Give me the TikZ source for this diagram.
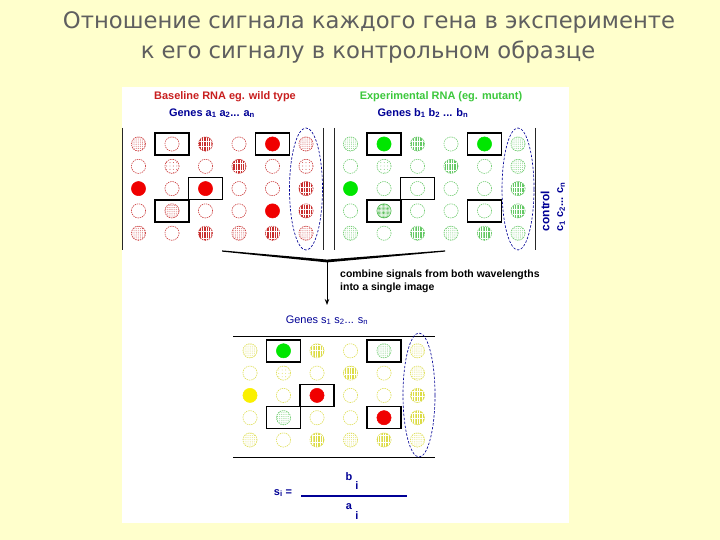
\documentclass[tikz,border=0pt]{standalone}
\usepackage{fontspec}
\setmainfont{Liberation Sans}
\newfontfamily\titlefont{DejaVu Sans}
\usetikzlibrary{patterns.meta,arrows.meta}
\definecolor{bg}{RGB}{255,255,204}
\definecolor{titlegrey}{RGB}{95,95,95}
\definecolor{rd}{RGB}{200,45,45}
\definecolor{rf}{RGB}{240,0,0}
\definecolor{gn}{RGB}{100,200,100}
\definecolor{gf}{RGB}{0,230,0}
\definecolor{gd}{RGB}{60,180,60}
\definecolor{yl}{RGB}{220,220,70}
\definecolor{yf}{RGB}{250,240,0}
\definecolor{navy}{RGB}{0,0,150}
\definecolor{hdrred}{RGB}{200,30,30}
\definecolor{hdrgreen}{RGB}{60,200,60}
\newcommand\spotrow[3]{\foreach \tp/\cl [count=\i from 0] in {#3}
  \path[spot\tp=\cl] ({#1+\i*33.5},#2) circle[radius=7.1bp];}
\newcommand\spotbox[2]{\draw[boxst] ({#1-17},{#2-11}) rectangle ({#1+17},{#2+11});}
\begin{document}
\begin{tikzpicture}[x=1bp,y=-1bp,
  spotE/.style={draw=#1, line width=0.55bp, dash pattern=on 1.4bp off 0.9bp},
  spotG/.style={spotE=#1, pattern={Dots[distance=1.9bp,radius=0.4bp]}, pattern color=#1},
  spotS/.style={spotE=#1, pattern={Dots[distance=3.4bp,radius=0.45bp]}, pattern color=#1},
  spotV/.style={spotE=#1, pattern={Lines[angle=90,distance=1.7bp,line width=0.5bp]}, pattern color=#1},
  spotD/.style={draw=#1, line width=0.5bp, pattern={Dots[distance=1.3bp,radius=0.45bp]}, pattern color=#1},
  spotF/.style={draw=#1, fill=#1, line width=0.5bp},
  boxst/.style={draw=black, line width=1.5bp},
  ctrl/.style={draw=navy, line width=0.65bp, dash pattern=on 2.4bp off 1.6bp},
  vline/.style={draw=black!85, line width=0.9bp},
  hdr/.style={font=\bfseries\fontsize{11}{13}\selectfont, inner sep=0pt},
  txt/.style={font=\bfseries\fontsize{10.5}{13}\selectfont, inner sep=0pt, anchor=west}]
\useasboundingbox (0,0) rectangle (720,540);
\fill[bg] (0,0) rectangle (720,540);
\fill[white] (122,87) rectangle (569,523);
% title
\node[titlegrey, font=\titlefont\fontsize{22.8}{27}\selectfont, inner sep=0pt] (t1) at (369,22) {Отношение сигнала каждого гена в эксперименте};
\node[titlegrey, font=\titlefont\fontsize{22.8}{27}\selectfont, inner sep=0pt] (t2) at (368,52) {к его сигналу в контрольном образце};
% headers
\node[hdr, text=hdrred] (h1) at (225,97) {Baseline RNA eg. wild type};
\node[hdr, text=navy] (g1) at (212,113) {Genes a\textsubscript{1} a\textsubscript{2}... a\textsubscript{n}};
\node[hdr, text=hdrgreen] (h2) at (441,97) {Experimental RNA (eg. mutant)};
\node[hdr, text=navy] (g2) at (423,113) {Genes b\textsubscript{1} b\textsubscript{2} ... b\textsubscript{n}};
% vertical lines
\draw[vline] (122,128) -- (122,250);
\draw[vline] (323,128) -- (323,250);
\draw[vline] (334,128) -- (334,250);
\draw[vline] (535,128) -- (535,250);
% red grid
\spotrow{138.5}{144}{G/rd,E/rd,V/rd,E/rd,F/rf,G/rd}
\spotrow{138.5}{166.3}{E/rd,S/rd,E/rd,V/rd,E/rd,S/rd}
\spotrow{138.5}{188.6}{F/rf,E/rd,F/rf,E/rd,E/rd,V/rd}
\spotrow{138.5}{210.9}{E/rd,G/rd,E/rd,E/rd,F/rf,V/rd}
\spotrow{138.5}{233.2}{G/rd,E/rd,V/rd,G/rd,V/rd,G/rd}
\spotbox{172}{144}\spotbox{272.5}{144}\spotbox{205.5}{188.6}\spotbox{172}{210.9}
\draw[ctrl] (306,189) ellipse[x radius=16.5bp, y radius=61bp];
% green grid
\spotrow{350.5}{144}{G/gn,F/gf,V/gn,E/gn,F/gf,G/gn}
\spotrow{350.5}{166.3}{E/gn,S/gn,E/gn,V/gn,E/gn,G/gn}
\spotrow{350.5}{188.6}{F/gf,E/gn,E/gn,E/gn,E/gn,V/gn}
\spotrow{350.5}{210.9}{E/gn,D/gd,E/gn,E/gn,E/gn,V/gn}
\spotrow{350.5}{233.2}{G/gn,E/gn,V/gn,G/gn,V/gn,G/gn}
\spotbox{384}{144}\spotbox{484.5}{144}\spotbox{417.5}{188.6}\spotbox{384}{210.9}\spotbox{484.5}{210.9}
\draw[ctrl] (518,189) ellipse[x radius=16bp, y radius=61bp];
% control labels
\node[hdr, text=navy, rotate=90, font=\bfseries\fontsize{12}{14}\selectfont] (ctl) at (545,211) {control};
\node[hdr, text=navy, rotate=90] (cs) at (561,207) {c\textsubscript{1} c\textsubscript{2}... c\textsubscript{n}};
% merge
\coordinate (ml) at (222,251);
\coordinate (mc) at (327,261);
\coordinate (mr) at (445,251);
\coordinate (ma) at (327,305);
\fill[black] (222,250.4) -- (327,259.6) -- (445,250.4) -- (445,251.6) -- (327,262.4) -- (222,251.6) -- cycle;
\draw[line width=0.9bp, -{Stealth[length=6bp,width=4.5bp]}] (mc) -- (ma);
\node[txt] (cm1) at (340,275) {combine signals from both wavelengths};
\node[txt] (cm2) at (340,288) {into a single image};
% bottom
\node[hdr, text=navy, font=\fontsize{11}{13}\selectfont] (g3) at (327,320) {Genes s\textsubscript{1} s\textsubscript{2}... s\textsubscript{n}};
\draw[line width=0.9bp] (233,336) -- (435,336);
\draw[line width=0.9bp] (233,457) -- (435,457);
\spotrow{250}{350.8}{G/yl,F/gf,V/yl,E/yl,G/gn,G/yl}
\spotrow{250}{373.1}{E/yl,S/yl,E/yl,V/yl,E/yl,G/yl}
\spotrow{250}{395.4}{F/yf,E/yl,F/rf,E/yl,E/yl,V/yl}
\spotrow{250}{417.7}{E/yl,G/gn,E/yl,E/yl,F/rf,V/yl}
\spotrow{250}{440}{G/yl,E/yl,V/yl,G/yl,V/yl,G/yl}
\spotbox{283.5}{350.8}\spotbox{384}{350.8}\spotbox{317}{395.4}\spotbox{283.5}{417.7}\spotbox{384}{417.7}
\draw[ctrl] (419,395) ellipse[x radius=16bp, y radius=62bp];
% formula
\node[hdr, text=navy] (si) at (283,493) {s\textsubscript{i} =};
\coordinate (fl) at (301,496);
\coordinate (fr) at (407,496);
\draw[navy, line width=1.6bp] (fl) -- (fr);
\node[hdr, text=navy] (bn) at (349,477) {b};
\node[hdr, text=navy] (bi) at (357,486) {i};
\node[hdr, text=navy] (an) at (349,507) {a};
\node[hdr, text=navy] (ai) at (357,516) {i};
\end{tikzpicture}
\end{document}
